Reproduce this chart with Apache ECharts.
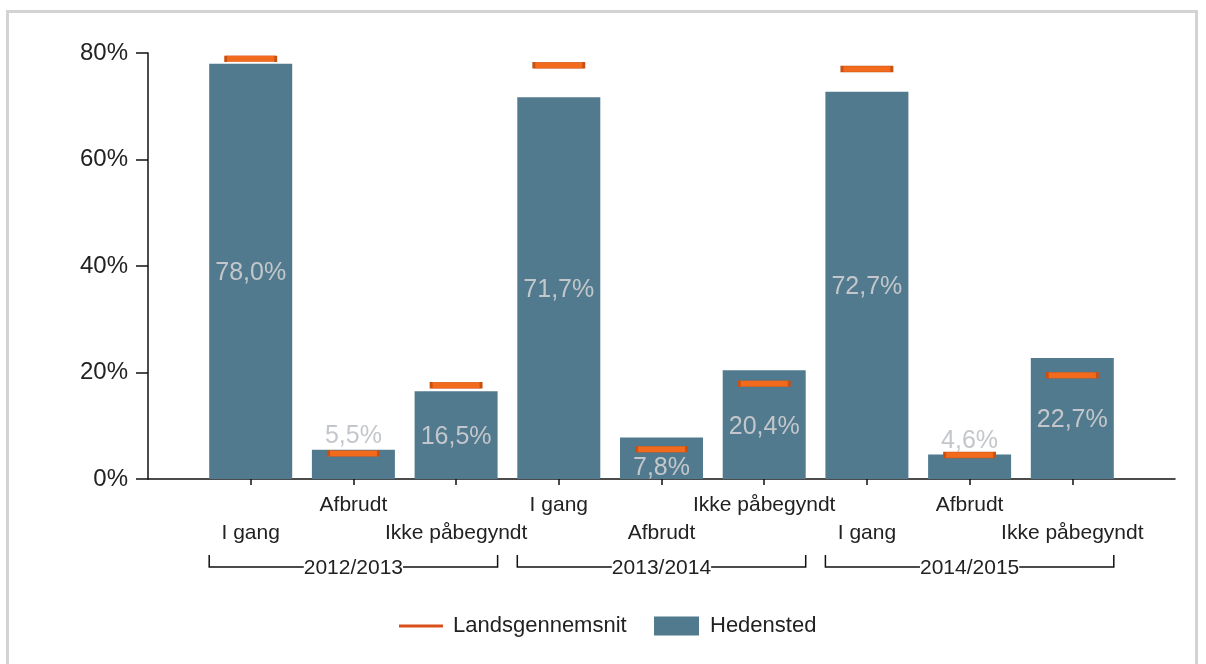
<!DOCTYPE html>
<html>
<head>
<meta charset="utf-8">
<script src="https://cdn.jsdelivr.net/npm/echarts@6/dist/echarts.min.js"></script>
<style>
  html, body { margin: 0; padding: 0; background: #fff; overflow: hidden; }
  #chart { width: 1206px; height: 664px; position: absolute; left: 0; top: 0; }
  #frame { position: absolute; left: 6px; top: 10px; width: 1186px; height: 700px;
           border: 3px solid #d3d3d3; pointer-events: none; }
</style>
</head>
<body>
<div id="chart"></div>
<div id="frame"></div>
<script>
// ---- data ----
const categories = ['I gang', 'Afbrudt', 'Ikke påbegyndt',
                    'I gang', 'Afbrudt', 'Ikke påbegyndt',
                    'I gang', 'Afbrudt', 'Ikke påbegyndt'];
const groups = ['2012/2013', '2013/2014', '2014/2015'];
const hedensted = [78.0, 5.5, 16.5, 71.7, 7.8, 20.4, 72.7, 4.6, 22.7];
const landsgennemsnit = [78.9, 4.8, 17.6, 77.7, 5.6, 17.9, 77.0, 4.5, 19.5];
const yTicks = [0, 20, 40, 60, 80];
const seriesNames = ['Landsgennemsnit', 'Hedensted'];

// ---- build ----
const FONT = '"Liberation Sans", Arial, sans-serif';
const BAR_W = 83;
const xCats = [''].concat(categories, ['']);
const fmt = v => v.toFixed(1).replace('.', ',') + '%';

const barData = ['-'].concat(hedensted.map(v => {
  let label;
  if (v < 6) label = { position: 'top', distance: 1 };
  else if (v < 10) label = { position: 'insideBottom', distance: -2 };
  else label = { position: 'inside', offset: [0, 2] };
  return { value: v, label: label };
}), ['-']);
const avgData = ['-'].concat(landsgennemsnit, ['-']);

const chart = echarts.init(document.getElementById('chart'), null, { renderer: 'canvas' });
const option = {
  animation: false,
  textStyle: { fontFamily: FONT },
  grid: { left: 148, right: 31, top: 53, bottom: 185, containLabel: false },
  legend: [
    {
      data: [{ name: seriesNames[0], itemStyle: { color: '#d9501a', borderWidth: 0 } }],
      left: 394, top: 610, icon: 'rect', itemWidth: 44, itemHeight: 3, itemGap: 10,
      textStyle: { fontSize: 22, lineHeight: 22, color: '#222', fontFamily: FONT, padding: [0, 0, 0, 5] }
    },
    {
      data: [seriesNames[1]],
      left: 649, top: 610, icon: 'rect', itemWidth: 45, itemHeight: 19, itemGap: 10,
      textStyle: { fontSize: 22, lineHeight: 22, color: '#222', fontFamily: FONT, padding: [0, 0, 0, 6] }
    }
  ],
  xAxis: {
    type: 'category',
    data: xCats,
    boundaryGap: false,
    axisLine: { lineStyle: { color: '#111', width: 1.5 } },
    axisTick: { length: 6, lineStyle: { color: '#111', width: 1.5 },
                interval: (i) => i > 0 && i < xCats.length - 1 },
    axisLabel: {
      interval: 0, margin: 12, fontSize: 21, color: '#222', lineHeight: 28, fontFamily: FONT,
      formatter: (val, idx) => (idx % 2 === 1 ? '\n' + val : val)
    },
    splitLine: { show: false }
  },
  yAxis: {
    type: 'value', min: yTicks[0], max: yTicks[yTicks.length - 1], interval: 20,
    axisLine: { show: true, lineStyle: { color: '#111', width: 1.5 } },
    axisTick: { show: true, length: 12, lineStyle: { color: '#111', width: 1.5 } },
    axisLabel: { formatter: '{value}%', fontSize: 24, color: '#222', margin: 20, fontFamily: FONT },
    splitLine: { show: false }
  },
  series: [
    {
      name: seriesNames[1], type: 'bar', data: barData, barWidth: BAR_W, z: 2,
      itemStyle: { color: '#527a8e' },
      label: { show: true, formatter: p => fmt(p.value), fontSize: 25, color: '#c3c7cb', fontFamily: FONT }
    },
    {
      name: seriesNames[0], type: 'scatter', data: avgData, z: 5,
      symbol: 'rect', symbolSize: [50, 6],
      itemStyle: { color: '#f26a1c', borderColor: '#c85012', borderWidth: 1, opacity: 1 }
    }
  ]
};
chart.setOption(option);

// group brackets computed from the axis
const els = [];
const yTop = 555, yLine = 567;
groups.forEach((g, gi) => {
  const i0 = gi * 3 + 1, i1 = gi * 3 + 2, i2 = gi * 3 + 3;
  const left = chart.convertToPixel({ xAxisIndex: 0 }, i0) - BAR_W / 2;
  const right = chart.convertToPixel({ xAxisIndex: 0 }, i2) + BAR_W / 2;
  const mid = chart.convertToPixel({ xAxisIndex: 0 }, i1);
  els.push({
    type: 'polyline', z: 10,
    shape: { points: [[left, yTop], [left, yLine], [right, yLine], [right, yTop]] },
    style: { stroke: '#111', lineWidth: 1.5, fill: null }
  });
  els.push({
    type: 'text', z: 11, x: mid, y: yLine + 1,
    style: { text: g, fontSize: 21, fill: '#222', fontFamily: FONT, align: 'center',
             verticalAlign: 'middle', backgroundColor: '#fff', padding: [0, 0] }
  });
});
chart.setOption({ graphic: els });
</script>
</body>
</html>
